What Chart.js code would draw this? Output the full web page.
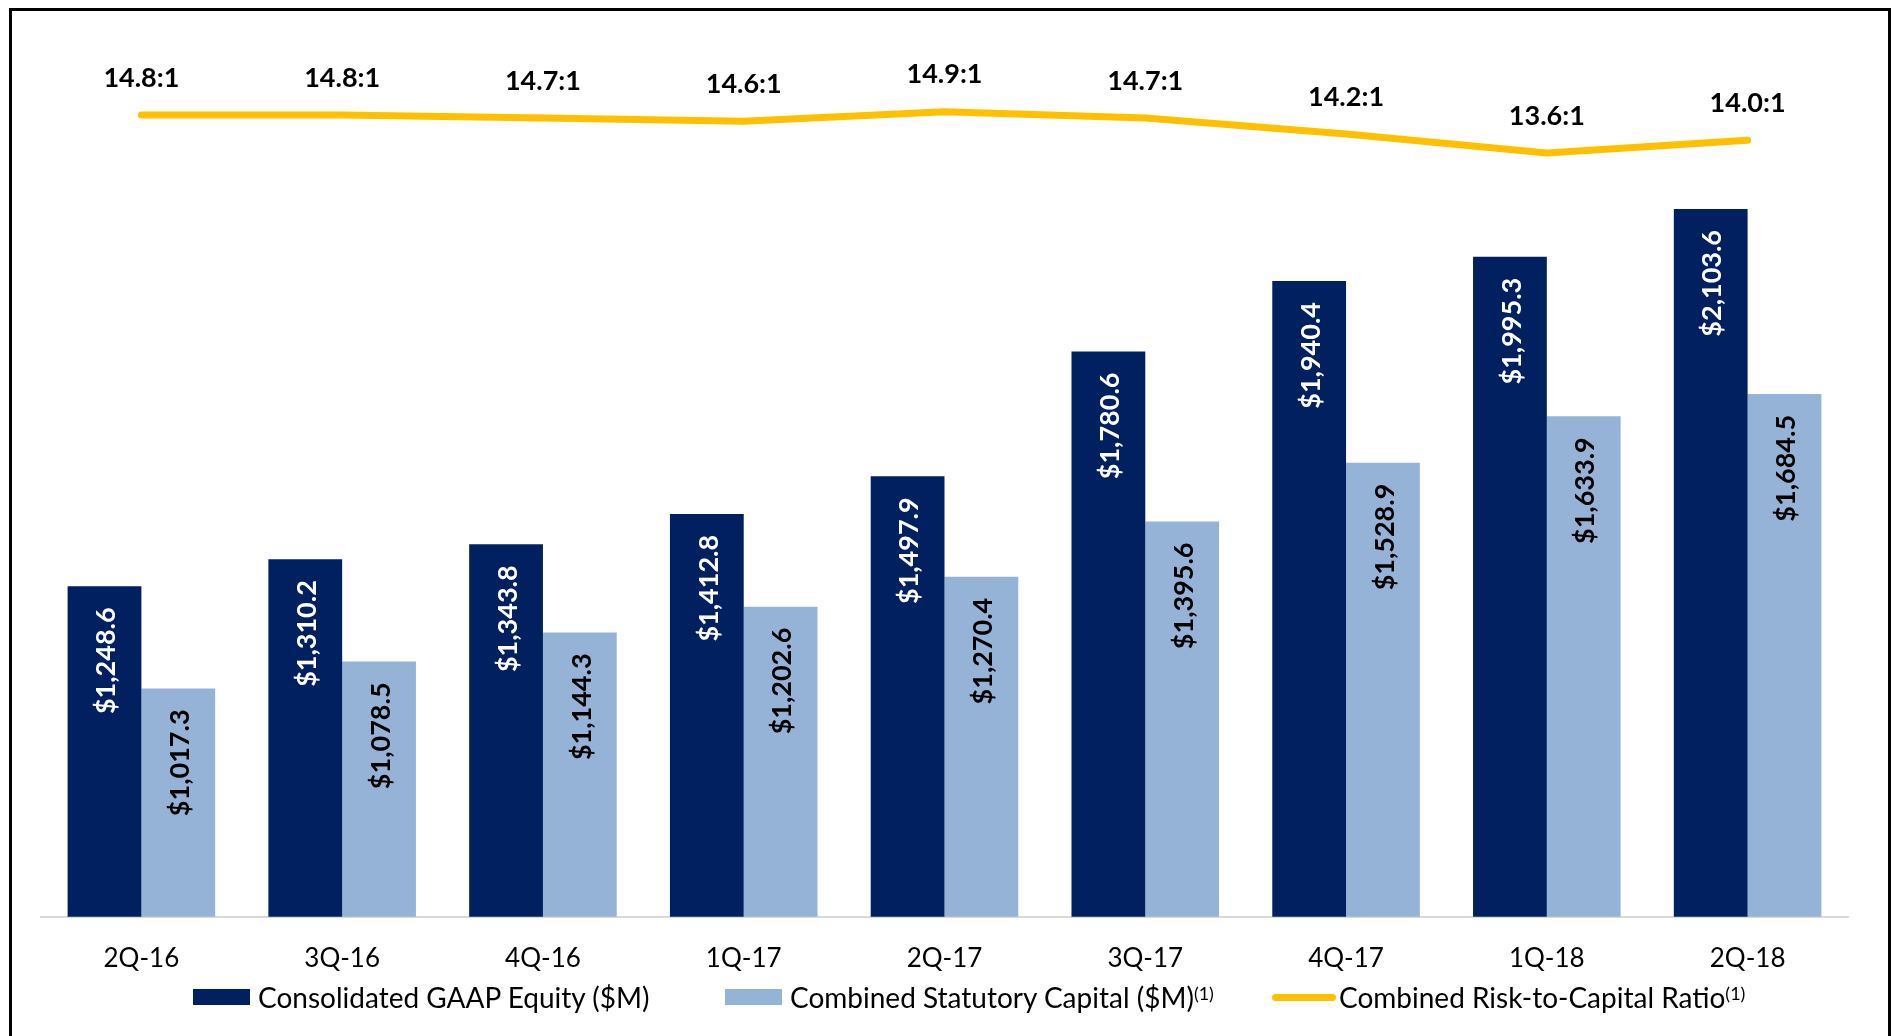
<!DOCTYPE html>
<html>
<head>
<meta charset="utf-8">
<script src="https://cdn.jsdelivr.net/npm/chart.js@4.4.1/dist/chart.umd.min.js"></script>
<style>
  html, body { margin: 0; padding: 0; background: #fff; overflow: hidden; }
  #wrap { position: relative; width: 1893px; height: 1036px; overflow: hidden; }
  #c { position: absolute; left: 0; top: 0; }
  #frame { position: absolute; left: 9px; top: 8px; width: 1876px; height: 1100px;
           border: 3px solid #000; border-bottom: none; pointer-events: none; }
  .lg { position: absolute; top: 980px; height: 34px; display: flex; align-items: center;
        font-family: Lato, "Open Sans", sans-serif; font-size: 28px; color: #000; white-space: nowrap; }
  .lg .sw { display: inline-block; }
  .lg sup { font-size: 18px; line-height: 0; position: relative; top: -4px; }
</style>
</head>
<body>
<div id="wrap">
  <canvas id="c" width="1893" height="1036"></canvas>
  <div id="frame"></div>
</div>
<script>
// ---- data ----
const categories = ['2Q-16','3Q-16','4Q-16','1Q-17','2Q-17','3Q-17','4Q-17','1Q-18','2Q-18'];
const gaapEquity = [1248.6, 1310.2, 1343.8, 1412.8, 1497.9, 1780.6, 1940.4, 1995.3, 2103.6];
const statCapital = [1017.3, 1078.5, 1144.3, 1202.6, 1270.4, 1395.6, 1528.9, 1633.9, 1684.5];
const riskRatio = [14.8, 14.8, 14.7, 14.6, 14.9, 14.7, 14.2, 13.6, 14.0];
const seriesNames = ['Consolidated GAAP Equity ($M)', 'Combined Statutory Capital ($M)', 'Combined Risk-to-Capital Ratio'];
const seriesFootnotes = ['', '(1)', '(1)'];

// ---- styles ----
const NAVY = '#002060', LIGHT = '#95B3D7', GOLD = '#FFC000';
const FONT = 'Lato, "Open Sans", sans-serif';

const fmtMoney = v => '$' + v.toLocaleString('en-US', {minimumFractionDigits: 1, maximumFractionDigits: 1});
const fmtRatio = v => v.toFixed(1) + ':1';

const labelPlugin = {
  id: 'valueLabels',
  afterDatasetsDraw(chart) {
    const ctx = chart.ctx;
    chart.data.datasets.forEach((ds, di) => {
      const meta = chart.getDatasetMeta(di);
      meta.data.forEach((el, i) => {
        const v = ds.data[i];
        ctx.save();
        if (ds.type === 'line') {
          ctx.font = 'bold 27px ' + FONT;
          ctx.fillStyle = '#000';
          ctx.textAlign = 'center';
          ctx.textBaseline = 'middle';
          ctx.fillText(fmtRatio(v), el.x, el.y - 37);
        } else {
          ctx.font = 'bold 27px ' + FONT;
          ctx.fillStyle = di === 0 ? '#fff' : '#000';
          ctx.translate(el.x + 2, el.y + 21);
          ctx.rotate(-Math.PI / 2);
          ctx.textAlign = 'right';
          ctx.textBaseline = 'middle';
          ctx.fillText(fmtMoney(v), 0, 0);
        }
        ctx.restore();
      });
    });
  }
};

const chart = new Chart(document.getElementById('c'), {
  data: {
    labels: categories,
    datasets: [
      { type: 'bar', label: seriesNames[0], data: gaapEquity, backgroundColor: NAVY, yAxisID: 'y', order: 2,
        categoryPercentage: 0.735, barPercentage: 1.0 },
      { type: 'bar', label: seriesNames[1], data: statCapital, backgroundColor: LIGHT, yAxisID: 'y', order: 2,
        categoryPercentage: 0.735, barPercentage: 1.0 },
      { type: 'line', label: seriesNames[2], data: riskRatio, borderColor: GOLD, backgroundColor: GOLD,
        borderWidth: 7, borderCapStyle: 'round', borderJoinStyle: 'round', pointRadius: 0, tension: 0,
        yAxisID: 'y2', order: 1 }
    ]
  },
  options: {
    responsive: false,
    devicePixelRatio: 1,
    animation: false,
    layout: { padding: { left: 41, right: 45, top: 34, bottom: 36 } },
    plugins: { legend: { display: false }, tooltip: { enabled: false } },
    scales: {
      x: {
        grid: { display: false, drawTicks: false },
        border: { display: true, color: '#D9D9D9', width: 2 },
        ticks: { color: '#000', font: { family: FONT, size: 26 }, padding: 26, maxRotation: 0 }
      },
      y: { display: false, min: 500, max: 2500 },
      y2: { display: false, min: -10.47, max: 17.35 }
    }
  },
  plugins: [labelPlugin]
});

// ---- HTML legend built from the chart's datasets ----
const legendLeft = [193, 725, 1272];
const wrap = document.getElementById('wrap');
chart.data.datasets.forEach((ds, i) => {
  const item = document.createElement('div');
  item.className = 'lg';
  item.style.left = legendLeft[i] + 'px';
  const sw = document.createElement('span');
  sw.className = 'sw';
  if (ds.type === 'line') {
    sw.style.width = '64px'; sw.style.height = '7px'; sw.style.borderRadius = '4px';
    sw.style.background = ds.borderColor; sw.style.marginRight = '3px';
  } else {
    sw.style.width = '57px'; sw.style.height = '16px';
    sw.style.background = ds.backgroundColor; sw.style.marginRight = '8px';
  }
  item.appendChild(sw);
  const tx = document.createElement('span');
  tx.textContent = ds.label;
  item.appendChild(tx);
  if (seriesFootnotes[i]) {
    const sp = document.createElement('sup');
    sp.textContent = seriesFootnotes[i];
    item.appendChild(sp);
  }
  wrap.appendChild(item);
});
</script>
</body>
</html>
